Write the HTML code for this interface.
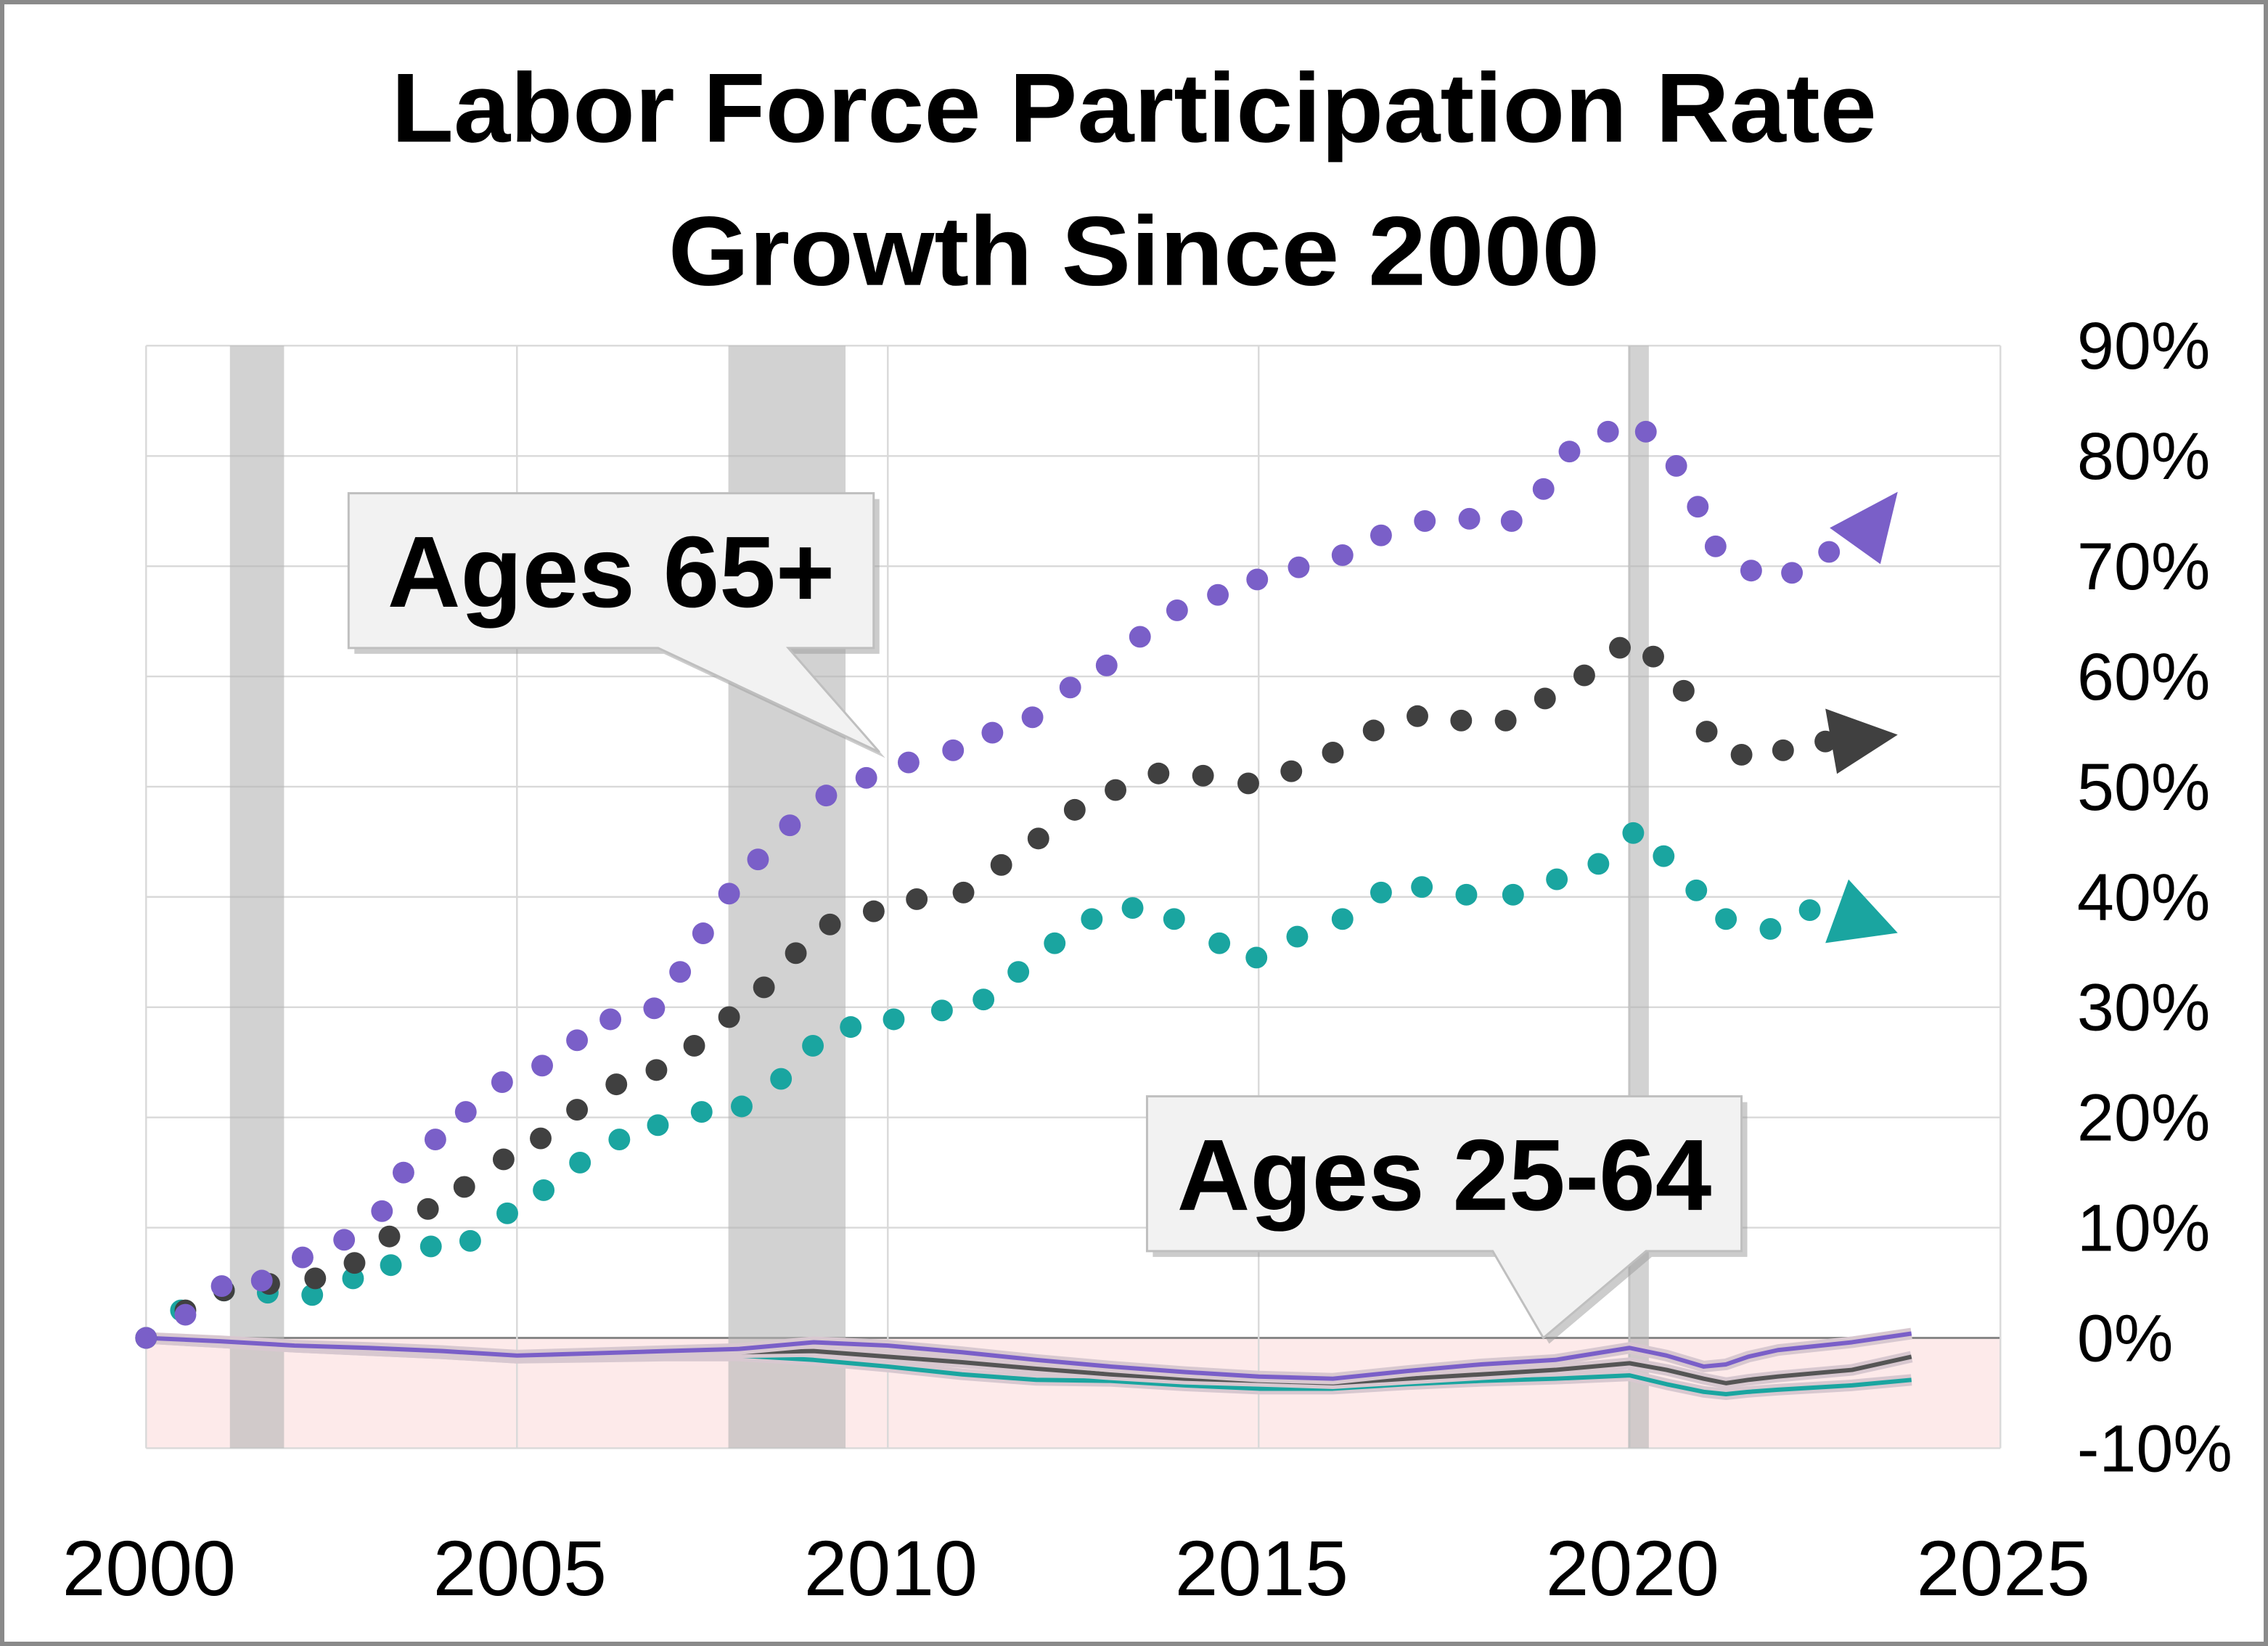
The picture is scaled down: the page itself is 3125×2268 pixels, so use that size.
<!DOCTYPE html>
<html><head><meta charset="utf-8"><style>
html,body{margin:0;padding:0;background:#fff}
svg{display:block}
text{font-family:"Liberation Sans",sans-serif}
</style></head><body>
<svg id="chart" width="3125" height="2268" viewBox="0 0 1568 1138" xmlns="http://www.w3.org/2000/svg">
<rect x="1.5" y="1.5" width="1565" height="1135" fill="#fff" stroke="#8a8a8a" stroke-width="3"/>
<text x="784" y="98" text-anchor="middle" font-size="68" font-weight="bold" textLength="1027" lengthAdjust="spacingAndGlyphs">Labor Force Participation Rate</text>
<text x="784" y="197" text-anchor="middle" font-size="68" font-weight="bold" textLength="644" lengthAdjust="spacingAndGlyphs">Growth Since 2000</text>
<g id="plot"></g>
</svg>
<script>
const yearsP=[2000,2000.53,2001.02,2001.56,2002.11,2002.67,2003.18,2003.47,2003.9,2004.31,2004.8,2005.34,2005.81,2006.26,2006.85,2007.2,2007.51,2007.86,2008.25,2008.68,2009.17,2009.71,2010.28,2010.88,2011.41,2011.95,2012.46,2012.95,2013.4,2013.9,2014.45,2014.98,2015.54,2016.13,2016.65,2017.24,2017.84,2018.41,2018.84,2019.19,2019.71,2020.22,2020.63,2020.92,2021.16,2021.64,2022.19,2022.69];
const valsP=[0,2.1,4.7,5.2,7.3,8.9,11.5,15,18,20.5,23.2,24.7,27,28.9,29.9,33.2,36.7,40.3,43.4,46.5,49.2,50.8,52.2,53.3,54.9,56.3,59,61,63.6,66,67.4,68.8,69.9,71,72.8,74.1,74.3,74.1,77,80.4,82.2,82.2,79.1,75.4,71.8,69.6,69.4,71.3];
const yearsB=[2000,2000.53,2001.05,2001.66,2002.28,2002.81,2003.28,2003.8,2004.29,2004.82,2005.32,2005.81,2006.34,2006.88,2007.39,2007.86,2008.33,2008.76,2009.22,2009.81,2010.39,2011.02,2011.53,2012.03,2012.52,2013.07,2013.65,2014.25,2014.86,2015.44,2016.0,2016.55,2017.14,2017.73,2018.33,2018.86,2019.39,2019.87,2020.32,2020.73,2021.04,2021.51,2022.07,2022.64];
const valsB=[0,2.5,4.3,4.9,5.4,6.8,9.2,11.7,13.7,16.2,18.1,20.7,23,24.3,26.5,29.1,31.8,34.9,37.5,38.7,39.8,40.4,42.9,45.3,47.9,49.7,51.2,51.0,50.3,51.4,53.1,55.1,56.4,56,56,58,60.1,62.6,61.8,58.7,55,52.9,53.3,54.1];
const yearsT=[2000,2000.47,2001.05,2001.64,2002.24,2002.79,2003.3,2003.84,2004.37,2004.87,2005.36,2005.85,2006.38,2006.9,2007.49,2008.03,2008.56,2008.99,2009.5,2010.08,2010.73,2011.29,2011.76,2012.25,2012.75,2013.3,2013.86,2014.47,2014.97,2015.52,2016.13,2016.65,2017.2,2017.8,2018.43,2019.02,2019.58,2020.05,2020.46,2020.9,2021.3,2021.9,2022.43];
const valsT=[0,2.5,4.3,4.1,3.9,5.4,6.6,8.3,8.8,11.3,13.4,15.9,18,19.3,20.5,21,23.5,26.5,28.2,28.9,29.7,30.7,33.2,35.8,38,39,38,35.8,34.5,36.4,38,40.4,40.9,40.2,40.2,41.6,43,45.8,43.7,40.6,38,37.1,38.8];
const lineYears=[2000,2001,2002,2003,2004,2005,2006,2007,2008,2009,2010,2011,2012,2013,2014,2015,2016,2017,2018,2019,2020,2020.5,2021,2021.3,2021.6,2022,2023,2023.8];
const lineP=[0,-0.3,-0.7,-0.9,-1.2,-1.6,-1.4,-1.2,-1.0,-0.4,-0.7,-1.3,-2.0,-2.6,-3.1,-3.5,-3.7,-3.0,-2.4,-2.0,-0.9,-1.6,-2.6,-2.4,-1.7,-1.1,-0.4,0.4];
const lineB=[0,-0.4,-0.8,-1.1,-1.4,-1.8,-1.6,-1.4,-1.3,-1.2,-1.7,-2.2,-2.8,-3.3,-3.7,-3.9,-4.1,-3.7,-3.3,-2.9,-2.3,-2.9,-3.7,-4.1,-3.8,-3.5,-2.9,-1.7];
const lineT=[0,-0.4,-0.8,-1.1,-1.4,-1.8,-1.7,-1.6,-1.6,-2.0,-2.6,-3.3,-3.8,-3.9,-4.3,-4.6,-4.6,-4.2,-3.9,-3.7,-3.4,-4.2,-4.9,-5.1,-4.9,-4.7,-4.3,-3.8];
const yTicks=[90,80,70,60,50,40,30,20,10,0,-10];
const xTicks=[2000,2005,2010,2015,2020,2025];
const recessions=[[2001.13,2001.86],[2007.85,2009.43],[2019.98,2020.26]];

const X=y=>101+(y-2000)*51.28;
const Y=v=>925-v*7.622;
const NS="http://www.w3.org/2000/svg";
const g=document.getElementById('plot');
function mk(tag,attrs){const e=document.createElementNS(NS,tag);for(const k in attrs)e.setAttribute(k,attrs[k]);g.appendChild(e);return e;}

let e=mk('rect',{x:X(2000),y:Y(0),width:X(2025)-X(2000),height:Y(-10)-Y(0),fill:'#fdeaea'});


for(const t of yTicks){
  e=mk('line',{x1:X(2000),x2:X(2025),y1:Y(t),y2:Y(t),stroke:t===0?'#888':'#d9d9d9','stroke-width':t===0?1.5:1.2});
  
  
  e=mk('text',{x:1436,y:Y(t)+16,'font-size':46});
  e.textContent=t+'%';
  
  
}
for(const t of xTicks){
  e=mk('line',{x1:X(t),x2:X(t),y1:Y(90),y2:Y(-10),stroke:'#d9d9d9','stroke-width':1.2});
  
  
  e=mk('text',{x:X(t)+2,y:1103,'font-size':54,'text-anchor':'middle'});
  e.textContent=t;
  
  
}
for(const r of recessions){
  e=mk('rect',{x:X(r[0]),y:Y(90),width:X(r[1])-X(r[0]),height:Y(-10)-Y(90),fill:'#b4b4b4','fill-opacity':0.6});
  
  
}
function line(ys,vs,col,name){
  let d=ys.map((y,i)=>(i?'L':'M')+X(y).toFixed(1)+','+Y(vs[i]).toFixed(1)).join(' ');
  let s=mk('path',{d:d,fill:'none',stroke:'#d8c8d0','stroke-width':8,'stroke-linejoin':'round'});
  
  
  s=mk('path',{d:d,fill:'none',stroke:col,'stroke-width':3,'stroke-linejoin':'round'});
  
  
}
line(lineYears,lineT,'#1aa5a0','line-25-64-teal');
line(lineYears,lineB,'#555','line-25-64-black');
line(lineYears,lineP,'#7a5fc8','line-25-64-purple');
function dots(ys,vs,col,name){
  ys.forEach((y,i)=>{
    const c=mk('circle',{cx:X(y),cy:Y(vs[i]),r:7.5,fill:col});
    
    
  });
}
dots(yearsT,valsT,'#1aa5a0','teal-65plus-dot');
dots(yearsB,valsB,'#404040','black-65plus-dot');
dots(yearsP,valsP,'#7a5fc8','purple-65plus-dot');
e=mk('polygon',{points:'1265,365 1312,340 1300,390',fill:'#7a5fc8'});


e=mk('polygon',{points:'1262,490 1312,508 1270,535',fill:'#404040'});


e=mk('polygon',{points:'1262,652 1312,645 1278,608',fill:'#1aa5a0'});


function callout(x,y,w,h,b1,b2,tx,ty,label,name,fs){
  const d=`M${x},${y} H${x+w} V${y+h} H${b2} L${tx},${ty} L${b1},${y+h} H${x} Z`;
  let s=mk('path',{d:d,fill:'#999',opacity:0.5,transform:'translate(4,4)'});
  
  
  s=mk('path',{d:d,fill:'#f2f2f2',stroke:'#bfbfbf','stroke-width':1.5});
  
  
  s=mk('text',{x:x+w/2,y:y+h/2+25,'font-size':fs,'font-weight':'bold','text-anchor':'middle'});
  s.textContent=label;
  
  
}
callout(241,341,363,107,455,545,608,520,'Ages 65+','callout-65plus',70);
callout(793,758,411,107,1032,1138,1067,925,'Ages 25-64','callout-25-64',70);
</script>
</body></html>
